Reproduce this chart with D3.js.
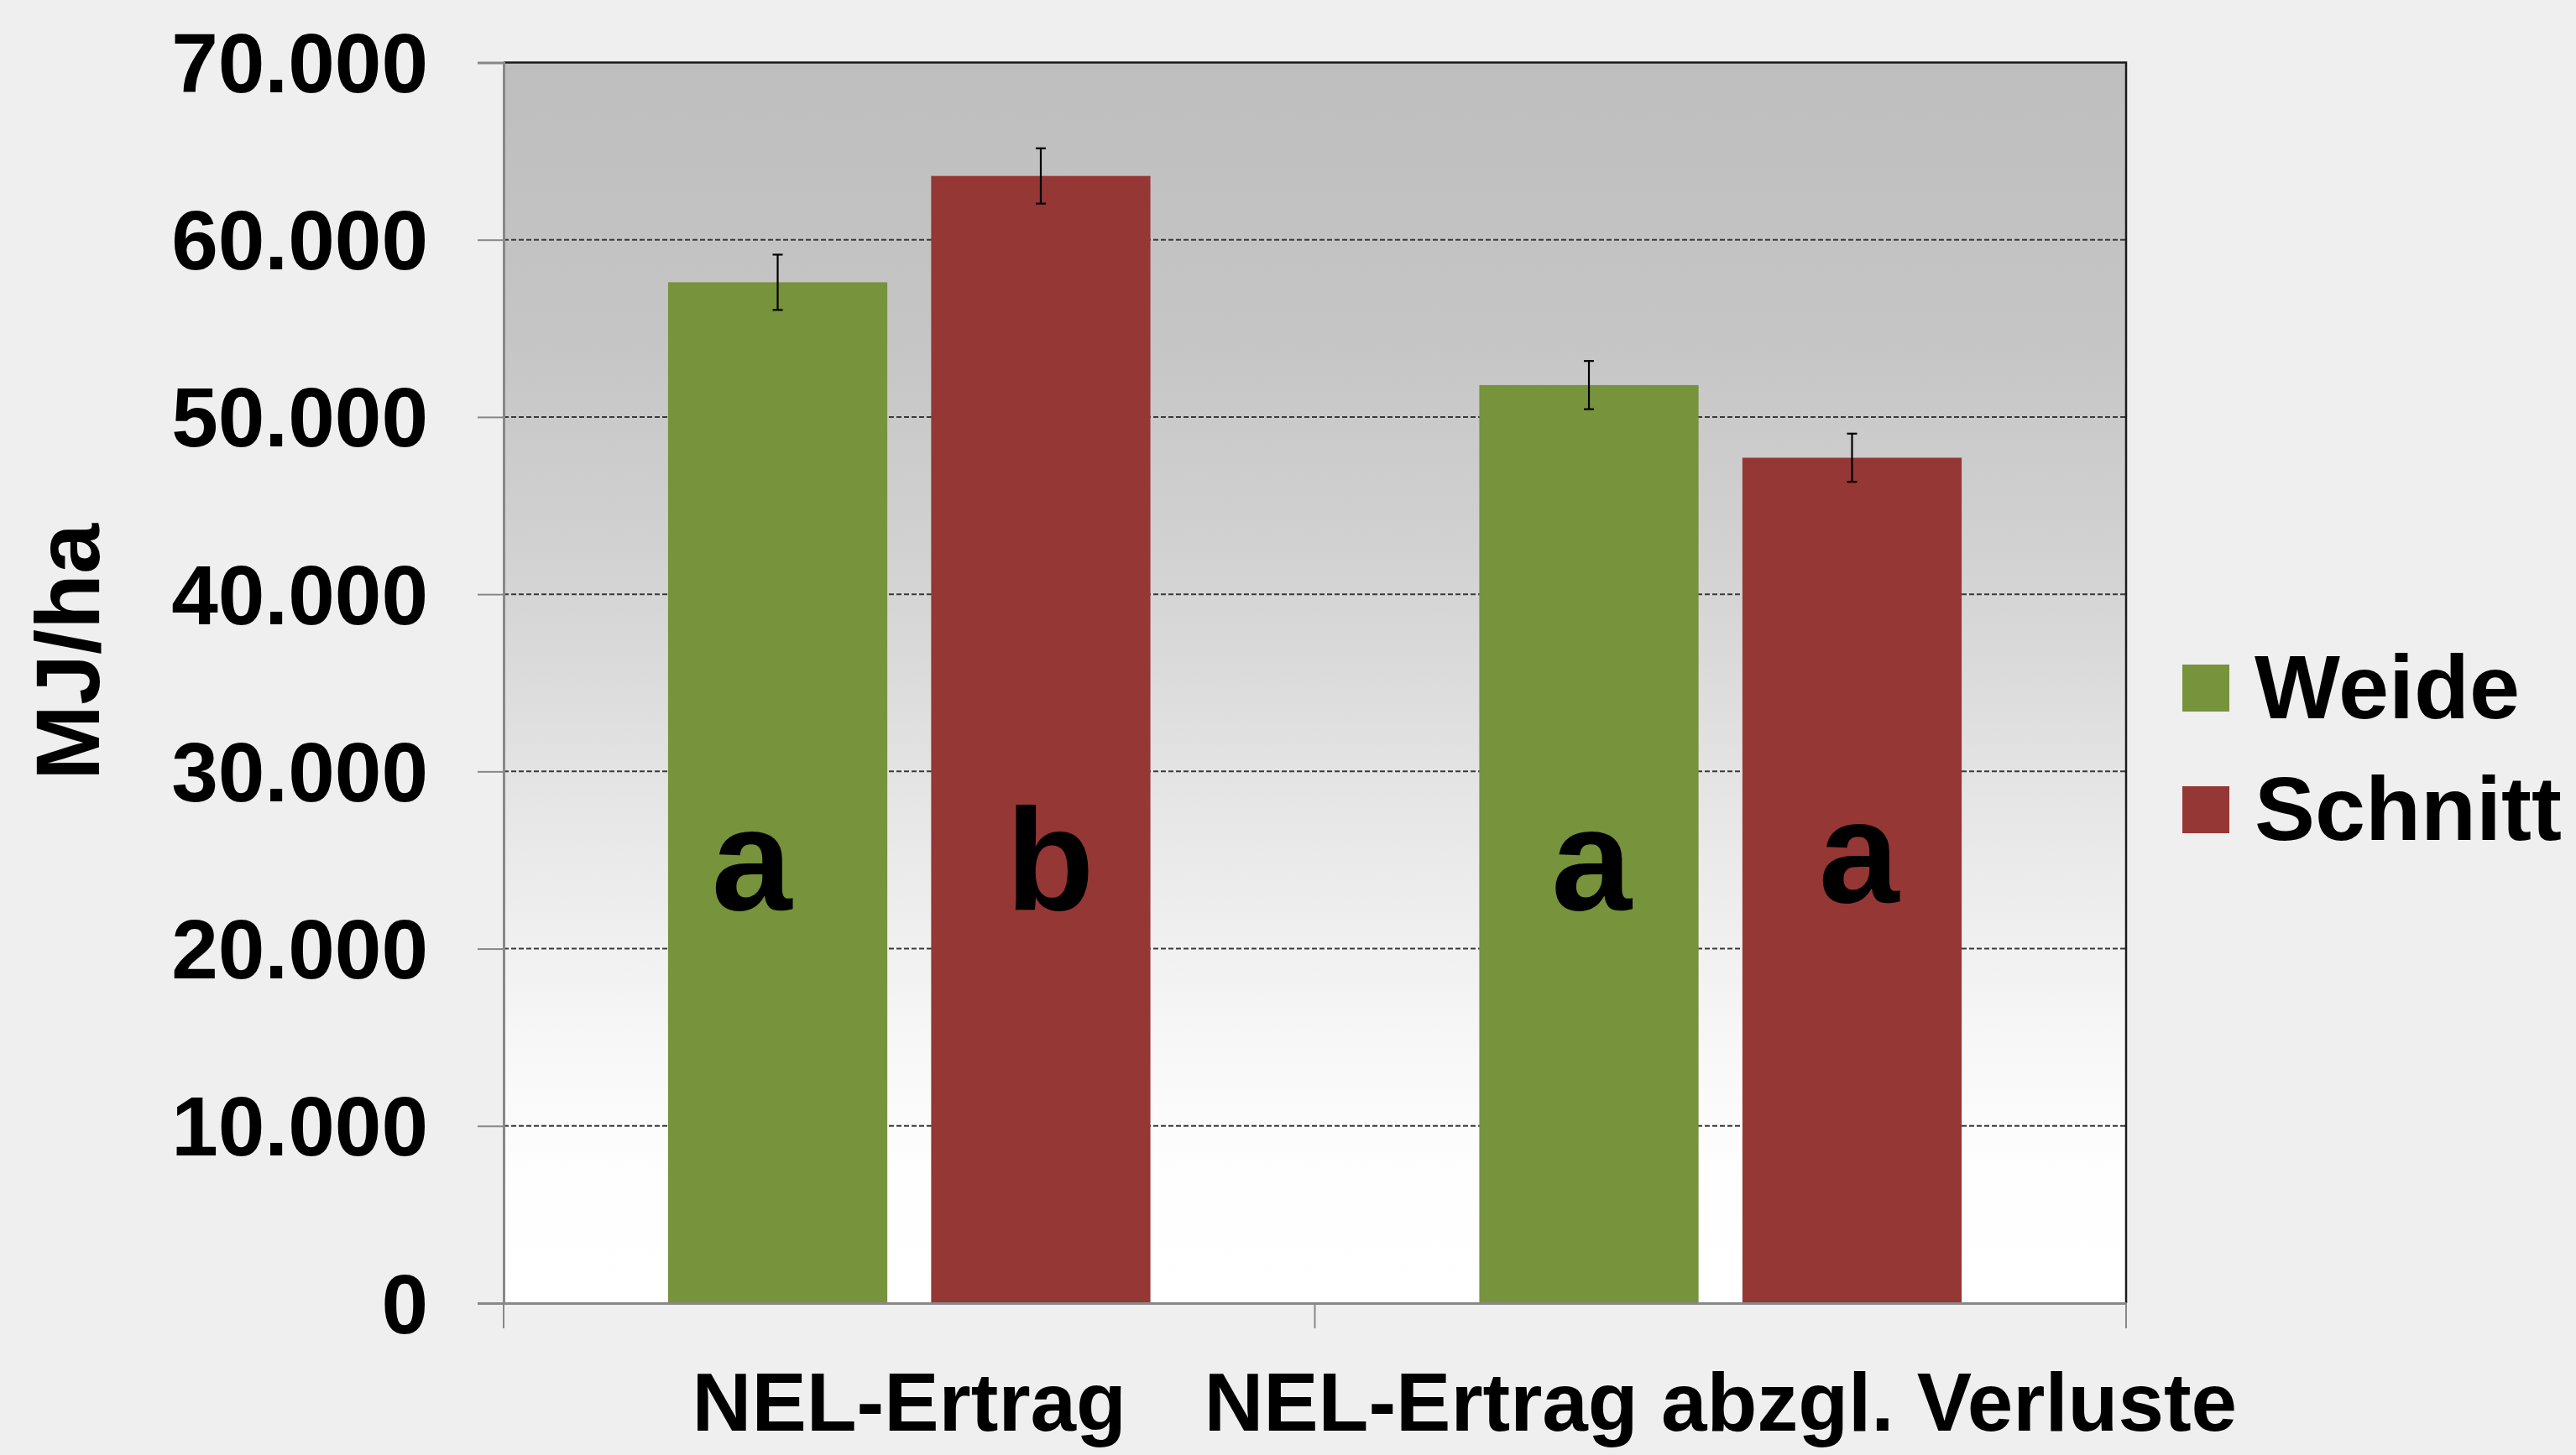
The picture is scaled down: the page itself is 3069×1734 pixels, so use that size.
<!DOCTYPE html>
<html>
<head>
<meta charset="utf-8">
<script src="https://cdn.jsdelivr.net/npm/d3@7"></script>
<style>
  html, body { margin: 0; padding: 0; background: #efefef; }
  svg { display: block; }
  text { font-family: "Liberation Sans", Arial, sans-serif; font-weight: bold; fill: #000; }
</style>
</head>
<body>
<svg id="chart" width="3069" height="1734"></svg>
<script>
// ---- data ----
const categories = ["NEL-Ertrag", "NEL-Ertrag abzgl. Verluste"];
const series = ["Weide", "Schnitt"];
const weideValues = [57600, 51800];
const schnittValues = [63600, 47700];
const weideErrors = [1560, 1360];
const schnittErrors = [1560, 1360];
const weideLetters = ["a", "a"];
const schnittLetters = ["b", "a"];
const yTicks = [0, 10000, 20000, 30000, 40000, 50000, 60000, 70000];
const yTitle = "MJ/ha";

// ---- layout ----
const W = 3069, H = 1734;
const plot = { left: 600, right: 2533, top: 74.5, bottom: 1553 };
const colors = { Weide: "#77933c", Schnitt: "#953735" };
// small manual nudges of the significance letters (as in the original slide)
const letterNudge = { "Weide|0": [-31, 0], "Schnitt|0": [11, 0], "Weide|1": [3, 0], "Schnitt|1": [8, -9] };

const rows = [];
categories.forEach((c, i) => {
  rows.push({ cat: c, ci: i, s: "Weide", v: weideValues[i], e: weideErrors[i], l: weideLetters[i] });
  rows.push({ cat: c, ci: i, s: "Schnitt", v: schnittValues[i], e: schnittErrors[i], l: schnittLetters[i] });
});

const svg = d3.select("#chart");

const y = d3.scaleLinear().domain([0, 70000]).range([plot.bottom, plot.top]);
const x0 = d3.scaleBand().domain(categories).range([plot.left, plot.right]).paddingInner(0).paddingOuter(0);
const x1 = d3.scaleBand().domain(series).range([0, x0.bandwidth()]).paddingInner(1 / 6).paddingOuter(0.625);

const de = d3.formatLocale({ decimal: ",", thousands: ".", grouping: [3], currency: ["", "€"] });
const fmt = de.format(",");

// gradient plot background
const defs = svg.append("defs");
const grad = defs.append("linearGradient").attr("id", "bg").attr("x1", 0).attr("y1", 0).attr("x2", 0).attr("y2", 1);
[[0, "#bebebe"], [0.22, "#c5c5c5"], [0.4, "#d2d2d2"], [0.62, "#e8e8e8"], [0.8, "#f8f8f8"], [0.9, "#fefefe"], [1, "#ffffff"]]
  .forEach(([o, c]) => grad.append("stop").attr("offset", o).attr("stop-color", c));

svg.append("rect")
  .attr("x", plot.left).attr("y", plot.top)
  .attr("width", plot.right - plot.left).attr("height", plot.bottom - plot.top)
  .attr("fill", "url(#bg)");

// gridlines
svg.append("g").selectAll("line")
  .data(yTicks.filter(t => t > 0 && t < 70000))
  .join("line")
  .attr("x1", plot.left).attr("x2", plot.right)
  .attr("y1", d => y(d)).attr("y2", d => y(d))
  .attr("stroke", "#3a3a3a").attr("stroke-width", 2).attr("stroke-dasharray", "6,3");

// top & right border
svg.append("path")
  .attr("d", `M${plot.left},${plot.top}H${plot.right}V${plot.bottom}`)
  .attr("fill", "none").attr("stroke", "#1a1a1a").attr("stroke-width", 2.5);

// bars
const gBars = svg.append("g");
gBars.selectAll("rect").data(rows).join("rect")
  .attr("x", d => x0(d.cat) + x1(d.s))
  .attr("y", d => y(d.v))
  .attr("width", x1.bandwidth())
  .attr("height", d => y(0) - y(d.v))
  .attr("fill", d => colors[d.s]);

// error bars
const gErr = svg.append("g").attr("stroke", "#000").attr("stroke-width", 2.2);
rows.forEach(d => {
  const cx = x0(d.cat) + x1(d.s) + x1.bandwidth() / 2;
  const yt = y(d.v + d.e), yb = y(d.v - d.e);
  gErr.append("line").attr("x1", cx).attr("x2", cx).attr("y1", yt).attr("y2", yb);
  gErr.append("line").attr("x1", cx - 6).attr("x2", cx + 6).attr("y1", yt).attr("y2", yt);
  gErr.append("line").attr("x1", cx - 6).attr("x2", cx + 6).attr("y1", yb).attr("y2", yb);
});

// significance letters
svg.append("g").selectAll("text").data(rows).join("text")
  .attr("x", d => x0(d.cat) + x1(d.s) + x1.bandwidth() / 2 + letterNudge[d.s + "|" + d.ci][0])
  .attr("y", d => y(22200) + letterNudge[d.s + "|" + d.ci][1])
  .attr("text-anchor", "middle")
  .attr("font-size", 172)
  .text(d => d.l);

// y axis
const yAxis = svg.append("g").attr("transform", `translate(${plot.left},0)`)
  .call(d3.axisLeft(y).tickValues(yTicks).tickFormat(fmt).tickSize(31).tickPadding(59));
yAxis.select(".domain").attr("stroke", "#888").attr("stroke-width", 3);
yAxis.selectAll(".tick line").attr("stroke", "#888").attr("stroke-width", 2);
yAxis.selectAll(".tick text")
  .attr("font-size", 100)
  .attr("font-family", "'Liberation Sans', Arial, sans-serif")
  .attr("font-weight", "bold")
  .attr("fill", "#000")
  .attr("dy", "0.35em");

// x axis
const xAxis = svg.append("g").attr("transform", `translate(0,${plot.bottom})`)
  .call(d3.axisBottom(x0).tickSize(0).tickPadding(0).tickFormat(() => ""));
xAxis.select(".domain").attr("stroke", "#888").attr("stroke-width", 3);
// category boundary ticks
const bounds = [plot.left].concat(categories.map(c => x0(c) + x0.bandwidth()));
xAxis.append("g").selectAll("line").data(bounds).join("line")
  .attr("x1", d => d).attr("x2", d => d).attr("y1", 0).attr("y2", 30)
  .attr("stroke", "#888").attr("stroke-width", 2);
// category labels
svg.append("g").selectAll("text").data(categories).join("text")
  .attr("x", d => x0(d) + x0.bandwidth() / 2)
  .attr("y", 1705)
  .attr("text-anchor", "middle")
  .attr("font-size", 98)
  .text(d => d);

// y title
svg.append("text")
  .attr("transform", "translate(118,777) rotate(-90)")
  .attr("text-anchor", "middle")
  .attr("font-size", 108)
  .text(yTitle);

// legend
const lg = svg.append("g");
series.forEach((s, i) => {
  const yy = 792 + i * 145;
  lg.append("rect").attr("x", 2600).attr("y", yy).attr("width", 56).attr("height", 56).attr("fill", colors[s]);
  lg.append("text").attr("x", 2686).attr("y", yy + 64).attr("font-size", 108).text(s);
});
</script>
</body>
</html>
